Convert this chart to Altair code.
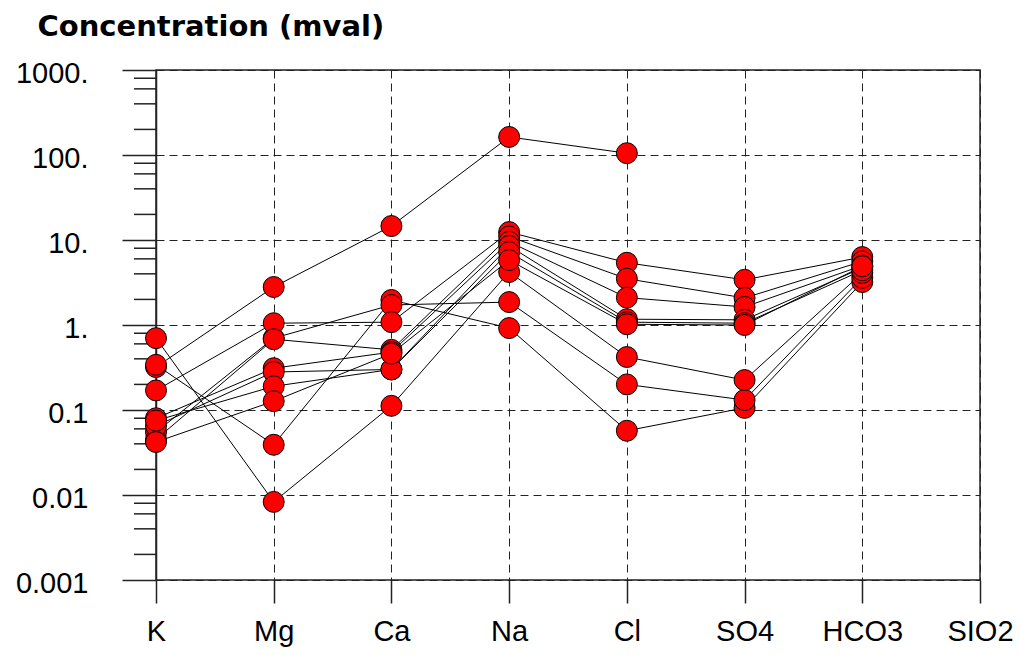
import altair as alt
import pandas as pd

# Ion categories (x axis)
categories = ["K", "Mg", "Ca", "Na", "Cl", "SO4", "HCO3", "SIO2"]

# Sample concentrations (mval) per ion: K, Mg, Ca, Na, Cl, SO4, HCO3 (None = missing)
s1 = [0.32, 2.8, 14.6, 163, 105, None, None]
s2 = [0.34, 0.039, 1.97, 0.92, 0.057, 0.106, 3.2]
s3 = [0.055, 0.70, 1.72, 1.86, 0.20, 0.131, 3.6]
s4 = [0.70, 0.0083, 0.112, 4.2, 0.42, 0.225, 4.1]
s5 = [0.17, 1.05, 1.08, 12.4, 5.4, 3.4, 6.3]
s6 = [0.045, 0.68, 0.51, 11.0, 3.5, 2.08, 5.6]
s7 = [0.08, 0.31, 0.48, 9.5, 2.1, 1.63, 5.0]
s8 = [0.065, 0.28, 0.30, 8.5, 1.17, 1.15, 4.7]
s9 = [0.075, 0.19, 0.30, 7.2, 1.08, 1.05, 4.4]
s10 = [0.042, 0.127, 0.46, 5.8, 1.02, 1.00, 4.9]
samples = [s1, s2, s3, s4, s5, s6, s7, s8, s9, s10]

# Y axis ticks
major_vals = [1000, 100, 10, 1, 0.1, 0.01, 0.001]
major_labels = ["1000.", "100.", "10.", "1.", "0.1", "0.01", "0.001"]
minor_mult = [2, 4, 6, 8]
minor_decades = [0.001, 0.01, 0.1, 1, 10, 100]

rows = []
for si, s in enumerate(samples):
    for i, v in enumerate(s):
        if v is not None:
            rows.append({"sample": f"S{si+1}", "ion": categories[i], "idx": i, "value": v})
df = pd.DataFrame(rows)

minor_df = pd.DataFrame({"value": [m * d for d in minor_decades for m in minor_mult]})

label_expr = "".join(f"datum.value == {v} ? '{l}' : " for v, l in zip(major_vals, major_labels)) + "''"

x_enc = alt.X(
    "ion:N",
    scale=alt.Scale(type="point", domain=categories, padding=0),
    axis=alt.Axis(
        title=None, grid=True, gridDash=[8, 5], gridColor="#222", gridWidth=1,
        tickSize=23, tickColor="#222", tickWidth=1.5, domain=False,
        labelFont="Liberation Sans", labelFontSize=29, labelColor="black",
        labelPadding=14, labelAngle=0,
    ),
)
y_enc = alt.Y(
    "value:Q",
    scale=alt.Scale(type="log", domain=[0.001, 1000], nice=False),
    axis=alt.Axis(
        values=major_vals, labelExpr=label_expr, labelOverlap=False, labelFlush=False,
        tickSize=34, tickColor="#222", tickWidth=1.5,
        domain=True, domainColor="#222", domainWidth=1.5,
        grid=True, gridDash=[8, 5], gridColor="#222", gridWidth=1,
        labelFont="Liberation Sans", labelFontSize=29, labelColor="black",
        labelPadding=34, labelBaseline="middle", labelOffset=3,
        title="Concentration (mval)", titleAngle=0, titleX=-119, titleY=-35,
        titleAlign="left", titleBaseline="alphabetic",
        titleFont="DejaVu Sans", titleFontSize=29, titleFontWeight="bold", titleColor="black",
    ),
)

lines = alt.Chart(df).mark_line(color="black", strokeWidth=1).encode(
    x=x_enc, y=y_enc, detail="sample:N", order="idx:Q"
)
points = alt.Chart(df).mark_circle(
    size=440, color="#ff0000", stroke="black", strokeWidth=1, opacity=1
).encode(x=x_enc, y=y_enc)
minor = alt.Chart(minor_df).mark_rule(color="#222", strokeWidth=1.5).encode(
    y=y_enc, x=alt.value(-22), x2=alt.value(0)
)

chart = (
    alt.layer(minor, lines, points)
    .properties(
        width=824, height=510,
        autosize=alt.AutoSizeParams(type="none"),
        padding={"left": 156, "top": 70, "right": 40, "bottom": 75},
        background="white",
    )
    .configure_view(stroke="#222", strokeWidth=1.5)
)

chart.save("out.html", embed_options={"renderer": "svg", "actions": False})
